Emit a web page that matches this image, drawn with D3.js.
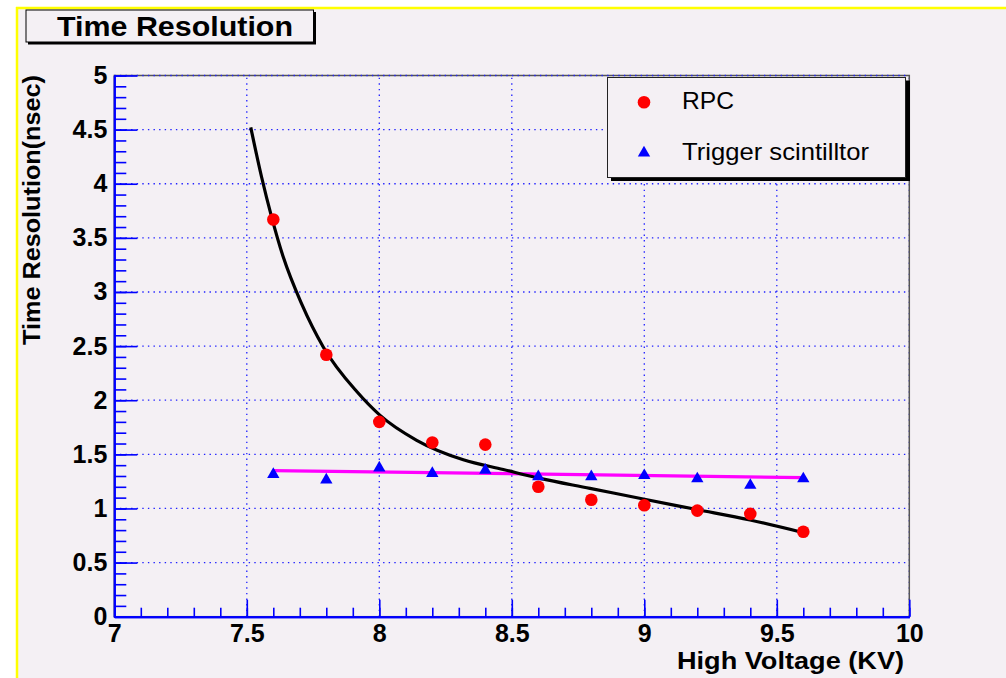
<!DOCTYPE html>
<html><head><meta charset="utf-8">
<script src="https://cdn.jsdelivr.net/npm/d3@7"></script>
<style>
html,body{margin:0;padding:0;background:#fff;}
svg{display:block;font-family:"Liberation Sans",Arial,sans-serif;}
</style></head>
<body>
<svg id="chart" width="1006" height="678"></svg>
<script>
// ---- data ----
const rpcVoltage = [7.6, 7.8, 8.0, 8.2, 8.4, 8.6, 8.8, 9.0, 9.2, 9.4, 9.6];
const rpcResolution = [3.67, 2.42, 1.80, 1.61, 1.59, 1.20, 1.08, 1.03, 0.98, 0.95, 0.785];
const trigVoltage = [7.6, 7.8, 8.0, 8.2, 8.4, 8.6, 8.8, 9.0, 9.2, 9.4, 9.6];
const trigResolution = [1.33, 1.28, 1.39, 1.34, 1.37, 1.31, 1.31, 1.32, 1.29, 1.23, 1.29];
// fitted curve for RPC
const rpcFitVoltage = [7.515, 7.556, 7.594, 7.638, 7.707, 7.789, 7.915, 8.003, 8.141, 8.317, 8.468, 8.606, 8.795, 8.996, 9.198, 9.399, 9.594];
const rpcFitValue = [4.52, 4.06, 3.69, 3.32, 2.89, 2.49, 2.08, 1.86, 1.63, 1.45, 1.36, 1.278, 1.186, 1.087, 0.99, 0.893, 0.78];
// straight-line fit for trigger scintillator
const trigFitVoltage = [7.6, 9.6];
const trigFitValue = [1.35, 1.285];
const xTickLabels = [7, 7.5, 8, 8.5, 9, 9.5, 10];
const yTickLabels = [0, 0.5, 1, 1.5, 2, 2.5, 3, 3.5, 4, 4.5, 5];
const legendLabels = ["RPC", "Trigger scintilltor"];
const titleText = "Time Resolution";
const xTitle = "High Voltage (KV)";
const yTitle = "Time Resolution(nsec)";

// ---- layout ----
const BG = "#f4f0f4";
const svg = d3.select("#chart");
const L = 114.3, R = 909.3, T = 75.5, B = 616.7;
const x = d3.scaleLinear().domain([7, 10]).range([L, R]);
const y = d3.scaleLinear().domain([0, 5]).range([B, T]);

// canvas background + yellow border
svg.append("rect").attr("x", 17).attr("y", 8).attr("width", 1006).attr("height", 678).attr("fill", BG);
svg.append("line").attr("x1", 16).attr("x2", 1006).attr("y1", 8).attr("y2", 8).attr("stroke", "#ffff00").attr("stroke-width", 2.5);
svg.append("line").attr("x1", 17).attr("x2", 17).attr("y1", 7).attr("y2", 678).attr("stroke", "#ffff00").attr("stroke-width", 2.5);

// grid
const gridStyle = g => g.attr("stroke", "#2020ff").attr("stroke-width", 1.3).attr("stroke-dasharray", "1.4,4.2").attr("fill", "none");
svg.append("g").selectAll("line").data(xTickLabels.filter(d => d > 7)).join("line")
  .attr("x1", d => x(d)).attr("x2", d => x(d)).attr("y1", B).attr("y2", T).call(gridStyle);
// frame
svg.append("rect").attr("x", L).attr("y", T).attr("width", R - L).attr("height", B - T)
  .attr("fill", "none").attr("stroke", "#555").attr("stroke-width", 1.5);
svg.append("g").selectAll("line").data(yTickLabels.filter(d => d > 0)).join("line")
  .attr("x1", L).attr("x2", R).attr("y1", d => y(d)).attr("y2", d => y(d)).call(gridStyle);

// axes
const blue = "#0000ff";
function styleAxis(g) {
  g.select(".domain").attr("stroke", blue).attr("stroke-width", 2);
  g.selectAll(".tick line").attr("stroke", blue).attr("stroke-width", 1.6);
  g.selectAll(".tick text").attr("fill", "#000").attr("font-size", "25px").attr("font-weight", "bold")
    .attr("font-family", "'Liberation Sans', Arial, sans-serif");
}
const minorX = d3.range(0, 31).map(i => 7 + i * 0.1);
const minorY = d3.range(0, 51).map(i => i * 0.1);
svg.append("g").attr("transform", `translate(0,${B})`)
  .call(d3.axisBottom(x).tickValues(minorX).tickSize(-9).tickSizeOuter(0).tickFormat(""))
  .call(styleAxis);
svg.append("g").attr("transform", `translate(0,${B})`)
  .call(d3.axisBottom(x).tickValues(xTickLabels).tickSize(-17).tickSizeOuter(0).tickPadding(8).tickFormat(d => String(d)))
  .call(styleAxis);
svg.append("g").attr("transform", `translate(${L},0)`)
  .call(d3.axisLeft(y).tickValues(minorY).tickSize(-12).tickSizeOuter(0).tickFormat(""))
  .call(styleAxis);
svg.append("g").attr("transform", `translate(${L},0)`)
  .call(d3.axisLeft(y).tickValues(yTickLabels).tickSize(-23).tickSizeOuter(0).tickPadding(7).tickFormat(d => String(d)))
  .call(styleAxis);

// axis titles
svg.append("text").attr("x", 904).attr("y", 669).attr("text-anchor", "end")
  .attr("font-size", "23px").attr("font-weight", "bold").attr("textLength", 227).attr("lengthAdjust", "spacingAndGlyphs")
  .text(xTitle);
svg.append("text").attr("transform", "translate(40,345) rotate(-90)").attr("x", 0).attr("y", 0)
  .attr("font-size", "24px").attr("font-weight", "bold").attr("textLength", 270).attr("lengthAdjust", "spacingAndGlyphs")
  .text(yTitle);

// fit curves
const rpcFit = rpcFitVoltage.map((v, i) => [v, rpcFitValue[i]]);
const trigFit = trigFitVoltage.map((v, i) => [v, trigFitValue[i]]);
svg.append("path").datum(trigFit)
  .attr("d", d3.line().x(d => x(d[0])).y(d => y(d[1])))
  .attr("fill", "none").attr("stroke", "#ff00ff").attr("stroke-width", 3.2);
svg.append("path").datum(rpcFit)
  .attr("d", d3.line().curve(d3.curveMonotoneX).x(d => x(d[0])).y(d => y(d[1])))
  .attr("fill", "none").attr("stroke", "#000").attr("stroke-width", 3.2);

// markers
const tri = d3.symbol().type(d3.symbolTriangle).size(66);
svg.append("g").selectAll("path").data(trigVoltage.map((v, i) => [v, trigResolution[i]])).join("path")
  .attr("d", tri).attr("fill", blue)
  .attr("transform", d => `translate(${x(d[0])},${y(d[1]) + 1.7})`);
svg.append("g").selectAll("circle").data(rpcVoltage.map((v, i) => [v, rpcResolution[i]])).join("circle")
  .attr("cx", d => x(d[0])).attr("cy", d => y(d[1])).attr("r", 6.3).attr("fill", "#ff0000");

// title box
svg.append("rect").attr("x", 28).attr("y", 12).attr("width", 288).attr("height", 32.5).attr("fill", "#000");
svg.append("rect").attr("x", 26).attr("y", 10).attr("width", 287.5).attr("height", 32).attr("fill", BG)
  .attr("stroke", "#000").attr("stroke-width", 1);
svg.append("text").attr("x", 57).attr("y", 35.5).attr("font-size", "28px").attr("font-weight", "bold")
  .attr("textLength", 236).attr("lengthAdjust", "spacingAndGlyphs").text(titleText);

// legend
svg.append("rect").attr("x", 611).attr("y", 80.5).attr("width", 299).attr("height", 100.5).attr("fill", "#000");
svg.append("rect").attr("x", 607.5).attr("y", 77.5).attr("width", 298).attr("height", 100).attr("fill", BG)
  .attr("stroke", "#222").attr("stroke-width", 1);
svg.append("circle").attr("cx", 644).attr("cy", 102.3).attr("r", 6.3).attr("fill", "#ff0000");
svg.append("path").attr("d", tri).attr("fill", blue).attr("transform", "translate(644,153)");
svg.append("text").attr("x", 682).attr("y", 109).attr("font-size", "24px")
  .attr("textLength", 52).attr("lengthAdjust", "spacingAndGlyphs").text(legendLabels[0]);
svg.append("text").attr("x", 682).attr("y", 160).attr("font-size", "24px")
  .attr("textLength", 187).attr("lengthAdjust", "spacingAndGlyphs").text(legendLabels[1]);
</script>
</body></html>
